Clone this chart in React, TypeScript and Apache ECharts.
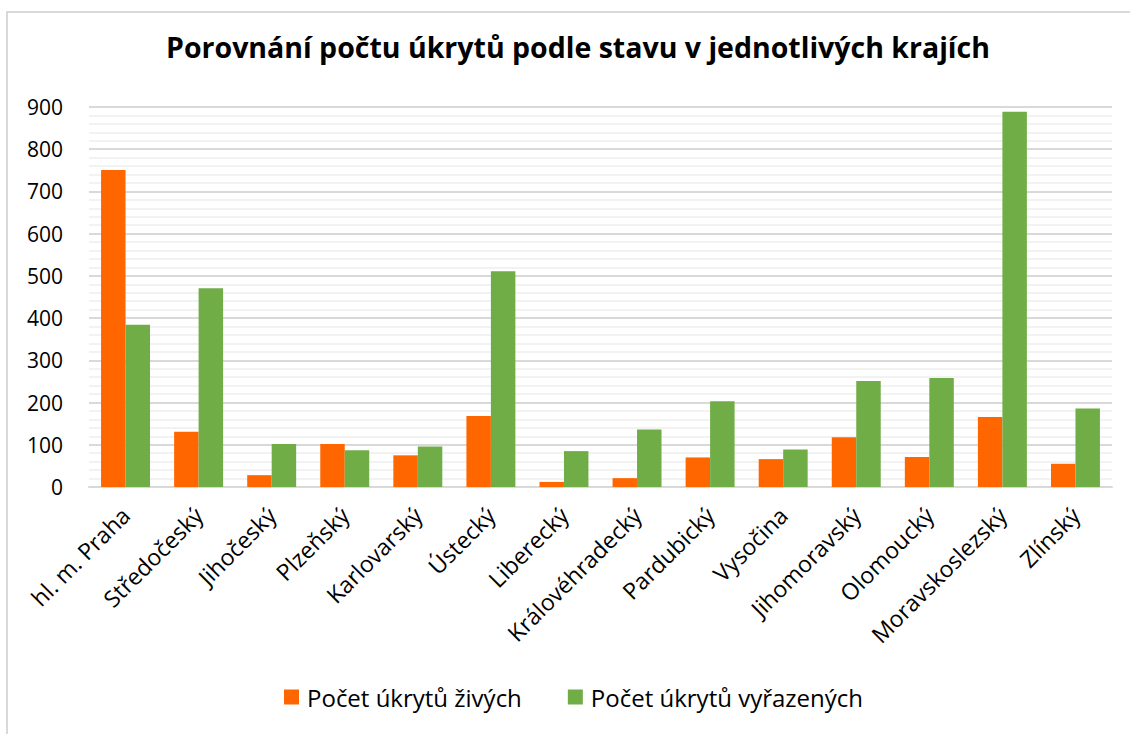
import React, { useEffect, useRef } from "react";
import * as echarts from "echarts";

const title = "Porovnání počtu úkrytů podle stavu v jednotlivých krajích";
const categories = [
  "hl. m. Praha",
  "Středočeský",
  "Jihočeský",
  "Plzeňský",
  "Karlovarský",
  "Ústecký",
  "Liberecký",
  "Královéhradecký",
  "Pardubický",
  "Vysočina",
  "Jihomoravský",
  "Olomoucký",
  "Moravskoslezský",
  "Zlínský",
];
const seriesNames = ["Počet úkrytů živých", "Počet úkrytů vyřazených"];
const zive = [751, 131, 28, 102, 75, 168, 12, 21, 70, 66, 118, 71, 166, 55];
const vyrazene = [384, 471, 102, 87, 96, 511, 85, 136, 203, 89, 251, 258, 889, 186];

const FONT = "'Open Sans', 'Noto Sans', sans-serif";

export default function App() {
  const ref = useRef<HTMLDivElement>(null);
  useEffect(() => {
    if (!ref.current) return;
    const chart = echarts.init(ref.current, undefined, { renderer: "svg" });
    chart.setOption({
      animation: false,
      backgroundColor: "#ffffff",
      textStyle: { fontFamily: FONT },
      graphic: [
        {
          type: "rect",
          shape: { x: 7, y: 12, width: 1300, height: 900 },
          style: { fill: "none", stroke: "#d9d9d9", lineWidth: 2 },
          silent: true,
          z: -10,
        },
      ],
      title: {
        text: title,
        left: 166,
        top: 32,
        padding: 0,
        textStyle: { fontFamily: FONT, fontWeight: "bold", fontSize: 28.5, color: "#000" },
      },
      legend: {
        data: seriesNames,
        bottom: 20,
        left: 279,
        itemWidth: 15,
        itemHeight: 15,
        itemGap: 46,
        icon: "rect",
        textStyle: { fontFamily: FONT, fontSize: 24, color: "#000", padding: [0, 0, 0, 3] },
      },
      grid: { left: 89, right: 18, top: 107, bottom: 247 },
      xAxis: {
        type: "category",
        data: categories,
        axisLine: { lineStyle: { color: "#d9d9d9", width: 2 } },
        axisTick: { show: false },
        axisLabel: {
          rotate: 45,
          interval: 0,
          fontFamily: FONT,
          fontSize: 23,
          color: "#000",
          margin: 24,
        },
      },
      yAxis: {
        type: "value",
        min: 0,
        max: 900,
        interval: 100,
        minorTick: { show: false, splitNumber: 5 },
        minorSplitLine: { show: true, lineStyle: { color: "#f2f2f2", width: 2 } },
        splitLine: { lineStyle: { color: "#d9d9d9", width: 2 } },
        axisLine: { show: false },
        axisTick: { show: false },
        axisLabel: { fontFamily: FONT, fontSize: 21, color: "#000", margin: 26 },
      },
      series: [
        {
          name: seriesNames[0],
          type: "bar",
          data: zive,
          itemStyle: { color: "#FF6600" },
          barGap: "0%",
          barCategoryGap: "33%",
        },
        {
          name: seriesNames[1],
          type: "bar",
          data: vyrazene,
          itemStyle: { color: "#70AD47" },
          barGap: "0%",
          barCategoryGap: "33%",
        },
      ],
    });
    return () => chart.dispose();
  }, []);
  return <div ref={ref} style={{ width: 1130, height: 734, position: "absolute", left: 0, top: 0 }} />;
}
